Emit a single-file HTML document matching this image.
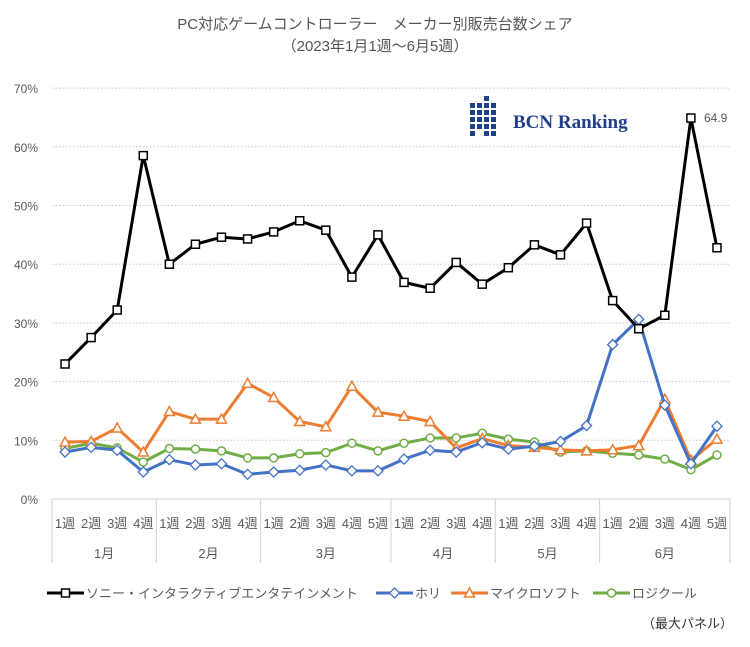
<!DOCTYPE html>
<html><head><meta charset="utf-8">
<style>
html,body{margin:0;padding:0;background:#fff;}
svg text{font-family:"Liberation Sans","Noto Sans CJK JP",sans-serif;}
</style></head>
<body>
<svg id="c" width="750" height="642" viewBox="0 0 750 642" xmlns="http://www.w3.org/2000/svg">
<text x="375" y="29" text-anchor="middle" font-size="15" fill="#555">PC対応ゲームコントローラー　メーカー別販売台数シェア</text>
<text x="375" y="51" text-anchor="middle" font-size="15" fill="#555">（2023年1月1週～6月5週）</text>
<g id="grid"></g>
<g id="logo">
<g fill="#1f3f8a">
<rect x="470" y="103" width="5" height="5"/><rect x="477" y="103" width="5" height="5"/><rect x="484" y="96" width="5" height="5"/><rect x="491" y="103" width="5" height="5"/>
<rect x="470" y="110" width="5" height="5"/><rect x="477" y="110" width="5" height="5"/><rect x="484" y="103" width="5" height="5"/><rect x="491" y="110" width="5" height="5"/>
<rect x="470" y="117" width="5" height="5"/><rect x="477" y="117" width="5" height="5"/><rect x="484" y="110" width="5" height="5"/><rect x="491" y="117" width="5" height="5"/>
<rect x="470" y="124" width="5" height="5"/><rect x="477" y="124" width="5" height="5"/><rect x="484" y="117" width="5" height="5"/><rect x="491" y="124" width="5" height="5"/>
<rect x="470" y="131" width="5" height="5"/><rect x="484" y="124" width="5" height="5"/><rect x="491" y="131" width="5" height="5"/><rect x="484" y="131" width="5" height="5"/>
</g>
<text x="513" y="128" font-weight="bold" font-size="19" fill="#1f3f8a" style="font-family:'Liberation Serif',serif">BCN Ranking</text>
</g>
<g id="series"></g>
<text x="704" y="122" font-size="12" fill="#595959">64.9</text>
<text x="642" y="628" font-size="13" fill="#333">（最大パネル）</text>
</svg>
<script>
var NS="http://www.w3.org/2000/svg";
function el(p,t,a,txt){var e=document.createElementNS(NS,t);for(var k in a)e.setAttribute(k,a[k]);if(txt!=null)e.textContent=txt;p.appendChild(e);return e;}
var g=document.getElementById('grid'),s=document.getElementById('series');
var x0=52,x1=730,y0=499,py=5.87,w=(x1-x0)/26;
function X(i){return x0+w/2+w*i;} function Y(v){return y0-v*py;}
for(var k=0;k<=7;k++){var y=Y(k*10);
 if(k>0) el(g,'line',{x1:x0,x2:x1,y1:y,y2:y,stroke:'#c8c8c8','stroke-dasharray':'1.5,2','stroke-width':1});
 el(g,'text',{x:38,y:y+5,'text-anchor':'end','font-size':'12',fill:'#595959'},k*10+'%');}
el(g,'line',{x1:x0,x2:x1,y1:y0,y2:y0,stroke:'#d0d0d0'});
var bounds=[0,4,8,13,17,21,26],months=['1月','2月','3月','4月','5月','6月'];
bounds.forEach(function(b){var x=x0+w*b;el(g,'line',{x1:x,x2:x,y1:y0,y2:563,stroke:'#d0d0d0'});});
var wk=[4,4,5,4,4,5],idx=0;
for(var m=0;m<6;m++){for(var j=0;j<wk[m];j++){el(g,'text',{x:X(idx),y:528,'text-anchor':'middle','font-size':'13',fill:'#595959'},(j+1)+'週');idx++;}
 el(g,'text',{x:(x0+w*bounds[m]+x0+w*bounds[m+1])/2,y:558,'text-anchor':'middle','font-size':'13',fill:'#595959'},months[m]);}
var D={
logi:[8.6,9.5,8.7,6.3,8.6,8.5,8.2,7,7,7.7,7.9,9.5,8.2,9.5,10.4,10.4,11.2,10.2,9.7,8,8.2,7.8,7.5,6.8,5,7.5],
ms:[9.7,9.8,12.1,8,14.9,13.6,13.6,19.7,17.3,13.2,12.3,19.2,14.8,14.1,13.2,8.7,10.3,9.1,8.8,8.4,8.2,8.4,9.1,17,6.6,10.2],
hori:[8,8.8,8.3,4.6,6.7,5.8,6,4.2,4.6,4.9,5.8,4.8,4.8,6.8,8.3,8,9.6,8.5,9,9.8,12.5,26.3,30.6,16,6,12.4],
sony:[23,27.5,32.2,58.5,40,43.4,44.6,44.3,45.5,47.4,45.8,37.8,45,36.9,35.9,40.3,36.6,39.4,43.3,41.6,47,33.8,29,31.3,64.9,42.8]};
function mk(p,type,x,y,c){
 if(type=='sq') el(p,'rect',{x:x-4,y:y-4,width:8,height:8,fill:'#fff',stroke:c,'stroke-width':1.5});
 else if(type=='di') el(p,'path',{d:'M'+x+' '+(y-5)+'L'+(x+5)+' '+y+'L'+x+' '+(y+5)+'L'+(x-5)+' '+y+'Z',fill:'#fff',stroke:c,'stroke-width':1.3});
 else if(type=='tr') el(p,'path',{d:'M'+x+' '+(y-5)+'L'+(x+5)+' '+(y+4)+'L'+(x-5)+' '+(y+4)+'Z',fill:'#fff',stroke:c,'stroke-width':1.5});
 else el(p,'circle',{cx:x,cy:y,r:4,fill:'#fff',stroke:c,'stroke-width':1.5});}
var S=[['logi','#70ad47','ci',3],['ms','#ed7d31','tr',3],['hori','#4472c4','di',3],['sony','#000','sq',3]];
S.forEach(function(q){var d=D[q[0]],pts=d.map(function(v,i){return X(i)+','+Y(v);}).join(' ');
 el(s,'polyline',{points:pts,fill:'none',stroke:q[1],'stroke-width':q[3],'stroke-linejoin':'round'});
 d.forEach(function(v,i){mk(s,q[2],X(i),Y(v),q[1]);});});
var L=[['ソニー・インタラクティブエンタテインメント','#000','sq',47],['ホリ','#4472c4','di',376],['マイクロソフト','#ed7d31','tr',451],['ロジクール','#70ad47','ci',593]];
L.forEach(function(q){var x=q[3],y=593;el(s,'line',{x1:x,x2:x+37,y1:y,y2:y,stroke:q[1],'stroke-width':3});mk(s,q[2],x+18.5,y,q[1]);
 el(s,'text',{x:x+39,y:y+5,'font-size':'13',fill:'#595959'},q[0]);});
</script>
</body></html>
